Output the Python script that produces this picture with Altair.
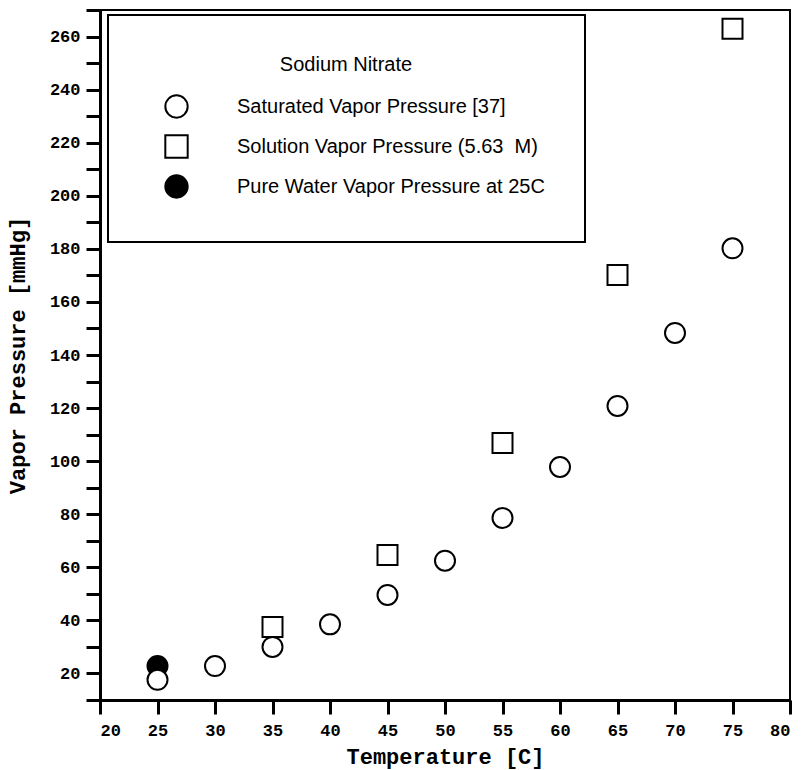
import altair as alt
import pandas as pd

sat_T = [25, 30, 35, 40, 45, 50, 55, 60, 65, 70, 75]
sat_P = [17.6, 22.8, 30.0, 38.5, 49.6, 62.5, 78.6, 97.8, 120.8, 148.3, 180.2]
sol_T = [35, 45, 55, 65, 75]
sol_P = [37.5, 64.6, 106.8, 170.1, 262.9]
pure_T = [25]
pure_P = [22.8]

S_SAT = "Saturated Vapor Pressure [37]"
S_SOL = "Solution Vapor Pressure (5.63\u00a0 M)"
S_PURE = "Pure Water Vapor Pressure at 25C"
series_order = [S_SAT, S_SOL, S_PURE]

x_ticks = list(range(20, 81, 5))
y_ticks = list(range(10, 271, 10))

rows = []
for t, p in zip(pure_T, pure_P):
    rows.append({"T": t, "P": p, "series": S_PURE})
for t, p in zip(sol_T, sol_P):
    rows.append({"T": t, "P": p, "series": S_SOL})
for t, p in zip(sat_T, sat_P):
    rows.append({"T": t, "P": p, "series": S_SAT})
df = pd.DataFrame(rows)

mono = "Liberation Mono"
sans = "Liberation Sans"
LEG = "Sodium Nitrate"

chart = alt.Chart(df).mark_point(
    filled=True, size=400, strokeWidth=2, opacity=1
).encode(
    x=alt.X("T:Q", title="Temperature [C]",
            scale=alt.Scale(domain=[20, 80], nice=False, zero=False),
            axis=alt.Axis(values=x_ticks, format="d", titlePadding=8, labelPadding=8)),
    y=alt.Y("P:Q", title="Vapor Pressure [mmHg]",
            scale=alt.Scale(domain=[10, 270], nice=False, zero=False),
            axis=alt.Axis(values=y_ticks,
                          labelExpr="datum.value % 20 == 0 ? datum.label : ''",
                          titlePadding=20, labelPadding=6)),
    shape=alt.Shape("series:N", title=LEG,
                    scale=alt.Scale(domain=series_order, range=["circle", "square", "circle"])),
    fill=alt.Fill("series:N", title=LEG,
                  scale=alt.Scale(domain=series_order, range=["white", "white", "black"]),
                  legend=alt.Legend(orient="none", legendX=8, legendY=5)),
    stroke=alt.Stroke("series:N", title=LEG,
                      scale=alt.Scale(domain=series_order, range=["black", "black", "black"])),
).properties(
    width=690, height=690,
    autosize=alt.AutoSizeParams(type="none"),
    padding={"left": 92, "top": 2, "right": 4, "bottom": 70},
).configure_view(
    stroke="black", strokeWidth=2
).configure_axis(
    grid=False,
    domainColor="black", domainWidth=3,
    tickColor="black", tickWidth=3, tickSize=14,
    labelFont=mono, labelFontWeight="bold", labelFontSize=17, labelColor="black",
    titleFont=mono, titleFontWeight="bold", titleFontSize=22, titleColor="black",
).configure_legend(
    padding=40, symbolOffset=16,
    strokeColor="black", strokeWidth=2,
    titleFont=sans, titleFontSize=20, titleFontWeight="normal", titleColor="black",
    titleAnchor="middle", titleAlign="center", titlePadding=19,
    labelFont=sans, labelFontSize=20, labelColor="black", labelLimit=500,
    labelOffset=48, rowPadding=9,
    symbolSize=500, symbolStrokeWidth=2,
)

chart.save("out.html", embed_options={"renderer": "svg", "actions": False})
